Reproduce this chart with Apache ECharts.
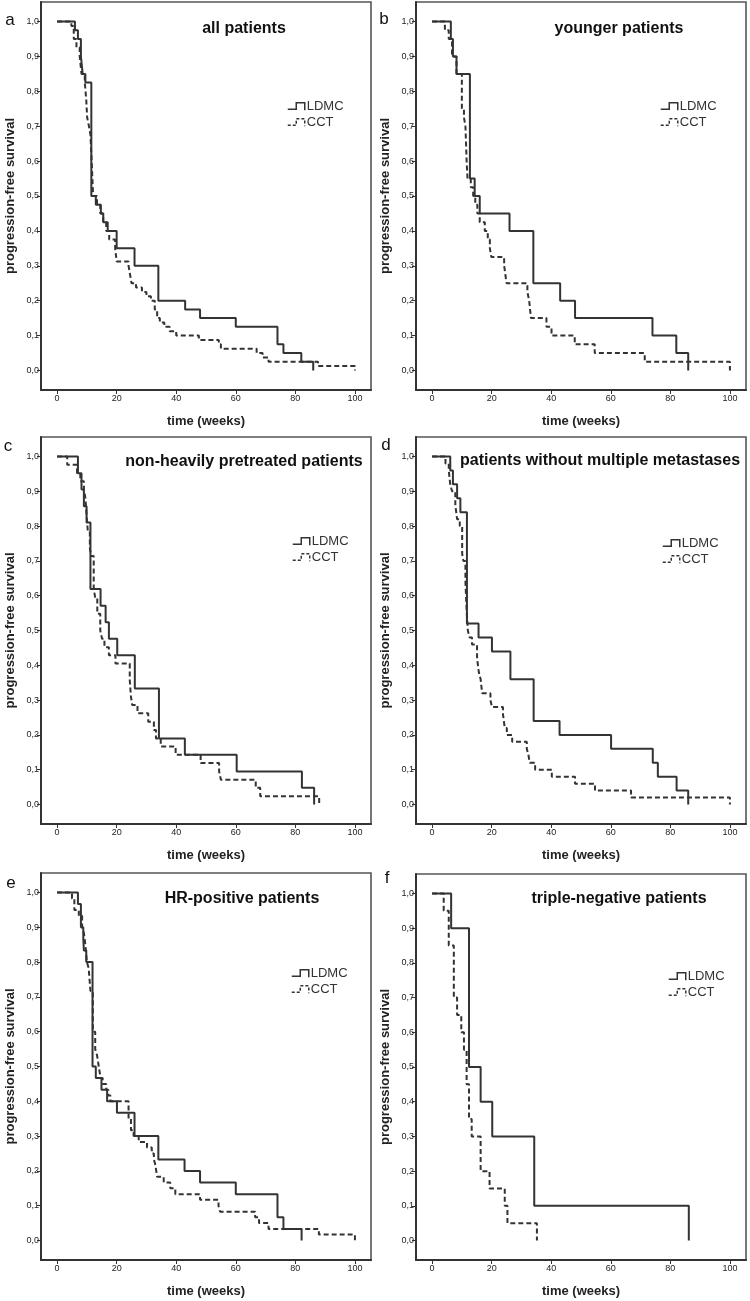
<!DOCTYPE html>
<html>
<head>
<meta charset="utf-8">
<script src="https://cdn.jsdelivr.net/npm/echarts@6/dist/echarts.min.js"></script>
<style>
  html, body { margin: 0; padding: 0; background: #fff; }
  #chart { width: 750px; height: 1301px; }
</style>
</head>
<body>
<div id="chart"></div>
<script>
// ---- data (time in weeks of each drop, survival after the drop) ----
const panelLetters = ['a', 'b', 'c', 'd', 'e', 'f'];
const panelTitles = ['all patients', 'younger patients', 'non-heavily pretreated patients',
  'patients without multiple metastases', 'HR-positive patients', 'triple-negative patients'];
const seriesNames = ['LDMC', 'CCT'];
const xTickVals = [0, 20, 40, 60, 80, 100];
const yTickVals = [0, 0.1, 0.2, 0.3, 0.4, 0.5, 0.6, 0.7, 0.8, 0.9, 1.0];

const aLdmcT = [0, 6, 7, 8, 8.6, 9.5, 11.5, 13, 14.7, 15.5, 17, 20, 26, 34, 43, 48, 60, 74, 76, 82, 86];
const aLdmcS = [1, 0.975, 0.95, 0.9, 0.85, 0.825, 0.5, 0.475, 0.45, 0.425, 0.4, 0.35, 0.3, 0.2, 0.175, 0.15, 0.125, 0.075, 0.05, 0.025, 0];
const aCctT = [0, 4.8, 5.6, 6.5, 7.6, 8.2, 9.3, 9.8, 10.1, 10.7, 11.2, 11.6, 12.1, 13.4, 14.5, 15.5, 16.5, 17.5, 19.5, 20, 24, 24.5, 25, 26.5, 28.5, 30, 31.5, 32.8, 33.6, 34.5, 36, 37.8, 40, 47.6, 54.3, 55, 67, 69, 71, 87.6, 100];
const aCctS = [1, 0.9875, 0.95, 0.925, 0.9, 0.85, 0.825, 0.775, 0.725, 0.7, 0.675, 0.6, 0.5, 0.475, 0.45, 0.425, 0.4, 0.375, 0.35, 0.3125, 0.3, 0.275, 0.25, 0.2375, 0.225, 0.2125, 0.2, 0.175, 0.15, 0.1375, 0.125, 0.1125, 0.1, 0.0875, 0.075, 0.0625, 0.05, 0.0375, 0.025, 0.0125, 0];

const bLdmcT = [0, 6.3, 7, 8.2, 12.7, 14.3, 16, 26, 34, 43, 48, 74, 82, 86];
const bLdmcS = [1, 0.95, 0.9, 0.85, 0.55, 0.5, 0.45, 0.4, 0.25, 0.2, 0.15, 0.1, 0.05, 0];
const bCctT = [0, 4.3, 5.6, 6.7, 8.2, 10, 10.7, 11.2, 11.6, 11.9, 13, 13.8, 14.5, 15.2, 16, 17.7, 18.7, 19.4, 19.9, 24.2, 24.6, 25, 32, 32.6, 33.2, 38.4, 40.1, 47.9, 54.6, 71.4, 100];
const bCctS = [1, 0.975, 0.95, 0.9, 0.85, 0.75, 0.725, 0.7, 0.6, 0.55, 0.525, 0.5, 0.475, 0.45, 0.425, 0.4, 0.375, 0.35, 0.325, 0.3, 0.275, 0.25, 0.225, 0.2, 0.15, 0.125, 0.1, 0.075, 0.05, 0.025, 0];

const cLdmcT = [0, 7, 8.2, 9, 9.9, 11.2, 14.6, 16.3, 17.4, 20.2, 26.1, 34.2, 42.9, 60.3, 82.2, 86.3];
const cLdmcS = [1, 0.952, 0.905, 0.857, 0.81, 0.619, 0.571, 0.524, 0.476, 0.429, 0.333, 0.19, 0.143, 0.095, 0.048, 0];
const cCctT = [0, 3.4, 6.7, 7.8, 9, 9.5, 9.9, 10.3, 11, 11.4, 12.3, 12.8, 13.5, 14.5, 15.1, 15.9, 17.4, 19.6, 24.4, 24.8, 25.2, 27, 30.6, 32.5, 33.2, 34.8, 39.8, 48.2, 54.4, 55, 66.7, 68.2, 88];
const cCctS = [1, 0.976, 0.952, 0.929, 0.905, 0.881, 0.833, 0.786, 0.738, 0.714, 0.619, 0.595, 0.548, 0.5, 0.476, 0.452, 0.429, 0.405, 0.357, 0.31, 0.286, 0.262, 0.238, 0.214, 0.19, 0.167, 0.143, 0.119, 0.095, 0.071, 0.048, 0.024, 0];

const dLdmcT = [0, 6.1, 7, 8.4, 9.5, 11.7, 15.6, 20.1, 26.3, 34.1, 42.8, 60.1, 74.1, 75.8, 82.1, 86];
const dLdmcS = [1, 0.96, 0.92, 0.88, 0.84, 0.52, 0.48, 0.44, 0.36, 0.24, 0.2, 0.16, 0.12, 0.08, 0.04, 0];
const dCctT = [0, 4.5, 5.6, 6.1, 6.7, 7.8, 8.4, 9.3, 10.1, 10.5, 11.2, 11.6, 12, 12.6, 13.4, 15.1, 15.7, 16.3, 16.8, 19.6, 20.1, 23.8, 24.4, 25.1, 26.9, 31.8, 32.4, 32.8, 34.6, 40.2, 48, 54.7, 66.8, 100];
const dCctS = [1, 0.98, 0.96, 0.92, 0.9, 0.86, 0.82, 0.8, 0.72, 0.7, 0.64, 0.56, 0.5, 0.48, 0.46, 0.42, 0.38, 0.36, 0.32, 0.3, 0.28, 0.26, 0.22, 0.2, 0.18, 0.16, 0.14, 0.12, 0.1, 0.08, 0.06, 0.04, 0.02, 0];

const eLdmcT = [0, 7, 8, 8.8, 9, 9.8, 11.9, 13, 14.9, 16.8, 20.1, 26, 34, 42.8, 48, 60, 74, 76, 82.1];
const eLdmcS = [1, 0.967, 0.9, 0.867, 0.833, 0.8, 0.5, 0.467, 0.433, 0.4, 0.367, 0.3, 0.233, 0.2, 0.167, 0.133, 0.067, 0.033, 0];
const eCctT = [0, 5, 5.8, 7.3, 8.4, 9, 9.5, 10, 10.6, 11.2, 12, 12.8, 13.4, 14, 14.6, 15.3, 16.5, 17.2, 17.9, 24, 24.8, 25.7, 27.4, 30.2, 31.8, 32.5, 33, 33.6, 35.8, 38, 39.7, 48, 54.2, 54.7, 66.5, 67.8, 71, 87.9, 100];
const eCctS = [1, 0.983, 0.95, 0.933, 0.9, 0.883, 0.85, 0.8, 0.783, 0.717, 0.6, 0.55, 0.533, 0.5, 0.467, 0.45, 0.433, 0.417, 0.4, 0.35, 0.317, 0.3, 0.283, 0.267, 0.25, 0.233, 0.217, 0.183, 0.167, 0.15, 0.133, 0.117, 0.1, 0.083, 0.067, 0.05, 0.033, 0.017, 0];

const fLdmcT = [0, 6.4, 12.4, 16.3, 20.2, 34.3, 86.2];
const fLdmcS = [1, 0.9, 0.5, 0.4, 0.3, 0.1, 0];
const fCctT = [0, 3.9, 5.6, 7.3, 8.4, 9.8, 10.7, 11.6, 12.4, 13.3, 16.3, 19.3, 24.4, 25.3, 35.2];
const fCctS = [1, 0.95, 0.85, 0.7, 0.65, 0.6, 0.55, 0.45, 0.35, 0.3, 0.2, 0.15, 0.1, 0.05, 0];

// ---- layout ----
const panelData = [
  [aLdmcT, aLdmcS, aCctT, aCctS],
  [bLdmcT, bLdmcS, bCctT, bCctS],
  [cLdmcT, cLdmcS, cCctT, cCctS],
  [dLdmcT, dLdmcS, dCctT, dCctS],
  [eLdmcT, eLdmcS, eCctT, eCctS],
  [fLdmcT, fLdmcS, fCctT, fCctS]
];
const grids = [
  { left: 41, top: 2, width: 330, height: 388 },
  { left: 416, top: 2, width: 330, height: 388 },
  { left: 41, top: 437, width: 330, height: 387 },
  { left: 416, top: 437, width: 330, height: 387 },
  { left: 41, top: 873, width: 330, height: 387 },
  { left: 416, top: 874, width: 330, height: 386 }
];
const titlePos = [[244, 29], [619, 29], [244, 462], [600, 461], [242, 899], [619, 899]];
const letterPos = [[10, 20], [384, 19], [8, 446], [386, 445], [11, 883], [387, 878]];
const legendPos = [[287, 100], [660, 100], [292, 535], [662, 537], [291, 967], [668, 970]];

const FONT = "'Liberation Sans', Arial, sans-serif";
const INK = '#333';
const zip = (t, s) => t.map((v, i) => [v, s[i]]);
const comma = v => (Math.round(v * 10) / 10).toFixed(1).replace('.', ',');

const option = {
  animation: false,
  backgroundColor: '#fff',
  textStyle: { fontFamily: FONT },
  grid: grids.map(g => Object.assign({
    show: true, borderColor: '#555', borderWidth: 1.6, backgroundColor: '#fff', containLabel: false
  }, g)),
  xAxis: grids.map((g, i) => ({
    type: 'value', gridIndex: i, min: -5.4, max: 105.4,
    axisLine: { show: true, onZero: false, lineStyle: { color: INK, width: 2 } },
    axisTick: { show: true, customValues: xTickVals, length: 4, lineStyle: { color: INK, width: 1 } },
    axisLabel: { customValues: xTickVals, fontSize: 9, color: '#222', margin: 4, fontFamily: FONT },
    splitLine: { show: false },
    name: 'time (weeks)', nameLocation: 'middle', nameGap: 25,
    nameTextStyle: { fontWeight: 'bold', fontSize: 13, color: '#222', fontFamily: FONT }
  })),
  yAxis: grids.map((g, i) => ({
    type: 'value', gridIndex: i, min: -0.056, max: 1.056,
    axisLine: { show: true, onZero: false, lineStyle: { color: INK, width: 2 } },
    axisTick: { show: true, customValues: yTickVals, length: 4, lineStyle: { color: INK, width: 1 } },
    axisLabel: { customValues: yTickVals, fontSize: 9, color: '#222', margin: 2, fontFamily: FONT, formatter: comma },
    splitLine: { show: false },
    name: 'progression-free survival', nameLocation: 'middle', nameGap: 24, nameRotate: 90,
    nameTextStyle: { fontWeight: 'bold', fontSize: 13, color: '#222', fontFamily: FONT }
  })),
  legend: legendPos.map(p => ({
    orient: 'vertical', left: p[0], top: p[1], padding: 0, itemGap: 3,
    itemWidth: 17, itemHeight: 8, selectedMode: false,
    icon: 'path://M0,7L8,7L8,1L16,1L16,8',
    itemStyle: { color: 'transparent', borderColor: INK, borderWidth: 1.5 },
    textStyle: { fontSize: 13, color: INK, fontFamily: FONT, padding: [0, 0, 0, -3] },
    data: [
      { name: seriesNames[0], itemStyle: { color: 'transparent', borderColor: INK, borderWidth: 1.5, borderType: 'solid' } },
      { name: seriesNames[1], itemStyle: { color: 'transparent', borderColor: INK, borderWidth: 1.5, borderType: [3, 2] } }
    ]
  })),
  series: [],
  graphic: []
};

panelData.forEach((d, i) => {
  option.series.push({
    name: seriesNames[0], type: 'line', step: 'end', xAxisIndex: i, yAxisIndex: i,
    symbol: 'none', data: zip(d[0], d[1]), z: 3,
    lineStyle: { color: INK, width: 2, type: 'solid' }, itemStyle: { color: INK }
  });
  option.series.push({
    name: seriesNames[1], type: 'line', step: 'end', xAxisIndex: i, yAxisIndex: i,
    symbol: 'none', data: zip(d[2], d[3]), z: 2,
    lineStyle: { color: INK, width: 2, type: [5, 3] }, itemStyle: { color: INK }
  });
  option.graphic.push({
    type: 'text', x: titlePos[i][0], y: titlePos[i][1], z: 10,
    style: { text: panelTitles[i], font: 'bold 16px ' + FONT, fill: '#111', align: 'center', verticalAlign: 'middle' }
  });
  option.graphic.push({
    type: 'text', x: letterPos[i][0], y: letterPos[i][1], z: 10,
    style: { text: panelLetters[i], font: '17px ' + FONT, fill: '#111', align: 'center', verticalAlign: 'middle' }
  });
});

const chart = echarts.init(document.getElementById('chart'), null, { renderer: 'canvas' });
chart.setOption(option);
</script>
</body>
</html>
